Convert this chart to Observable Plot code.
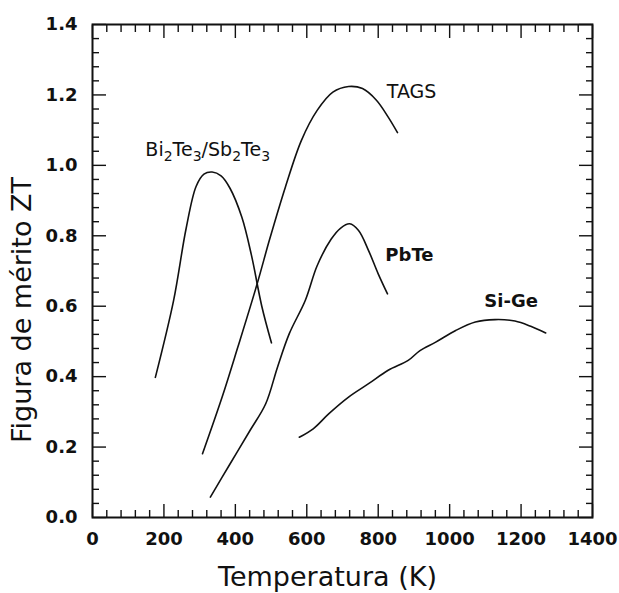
<!DOCTYPE html>
<html><head><meta charset="utf-8">
<script src="https://cdn.jsdelivr.net/npm/d3@7"></script>
<script src="https://cdn.jsdelivr.net/npm/@observablehq/plot@0.6"></script>
<style>html,body{margin:0;padding:0;background:#fff}</style>
</head><body><div id="chart"></div>
<script>
// Bi2Te3/Sb2Te3
const biT  = [176, 227, 262, 290, 312, 335, 360, 385, 418, 445, 474, 501];
const biZT = [0.398, 0.616, 0.820, 0.940, 0.975, 0.981, 0.970, 0.935, 0.853, 0.745, 0.600, 0.496];
// TAGS
const tagsT  = [308, 363, 407, 460, 496, 540, 585, 629, 673, 717, 756, 795, 828, 854];
const tagsZT = [0.181, 0.342, 0.484, 0.660, 0.790, 0.938, 1.071, 1.156, 1.208, 1.224, 1.218, 1.185, 1.137, 1.093];
// PbTe
const pbT  = [330, 385, 441, 485, 518, 551, 596, 629, 668, 695, 720, 745, 773, 800, 826];
const pbZT = [0.058, 0.152, 0.247, 0.323, 0.427, 0.522, 0.617, 0.715, 0.790, 0.822, 0.834, 0.815, 0.758, 0.692, 0.635];
// Si-Ge
const sigeT  = [579, 618, 662, 717, 773, 828, 884, 917, 961, 1017, 1072, 1127, 1183, 1227, 1269];
const sigeZT = [0.228, 0.252, 0.295, 0.342, 0.380, 0.418, 0.446, 0.474, 0.498, 0.531, 0.555, 0.562, 0.558, 0.543, 0.524];

const seriesNames = ["Bi2Te3/Sb2Te3", "TAGS", "PbTe", "Si-Ge"];
const xTickLabels = ["0", "200", "400", "600", "800", "1000", "1200", "1400"];
const yTickLabels = ["0.0", "0.2", "0.4", "0.6", "0.8", "1.0", "1.2", "1.4"];

// curve labels (anchored at data coordinates); digits in the first one are subscripts
const labelText = ["Bi2Te3/Sb2Te3", "TAGS", "PbTe", "Si-Ge"];
const labelT    = [148, 824, 820, 1097];
const labelZT   = [1.026, 1.191, 0.727, 0.598];

const xTitle = "Temperatura (K)";
const yTitle = "Figura de mérito ZT";

const allT = [biT, tagsT, pbT, sigeT];
const allZT = [biZT, tagsZT, pbZT, sigeZT];
const rows = seriesNames.flatMap((name, s) => allT[s].map((t, i) => ({series: name, T: t, ZT: allZT[s][i]})));
const labels = labelText.map((text, i) => ({text, T: labelT[i], ZT: labelZT[i]}));

const xMajor = xTickLabels.map(Number);
const xMinor = d3.range(0, 36).filter(i => i % 5 !== 0).map(i => i * 40);
const yMajor = yTickLabels.map(Number);
const yMinor = d3.range(0, 36).filter(i => i % 5 !== 0).map(i => +(i * 0.04).toFixed(2));

const blank = () => "";
const tickStyle = {label: null, tickFormat: blank, stroke: "#111", strokeWidth: 1.4};

const chart = Plot.plot({
  width: 619,
  height: 593,
  marginLeft: 92,
  marginRight: 27,
  marginTop: 24,
  marginBottom: 76,
  x: {domain: [0, 1400]},
  y: {domain: [0, 1.4]},
  style: {fontFamily: "DejaVu Sans", fontSize: "18px", fontWeight: "bold", color: "#111", background: "#fff"},
  marks: [
    Plot.axisX(xMinor, {...tickStyle, anchor: "bottom", tickSize: -7}),
    Plot.axisX(xMajor, {...tickStyle, anchor: "bottom", tickSize: -13}),
    Plot.axisX(xMinor, {...tickStyle, anchor: "top", tickSize: -7}),
    Plot.axisX(xMajor, {...tickStyle, anchor: "top", tickSize: -13}),
    Plot.axisY(yMinor, {...tickStyle, anchor: "left", tickSize: -7}),
    Plot.axisY(yMajor, {...tickStyle, anchor: "left", tickSize: -14}),
    Plot.axisY(yMinor, {...tickStyle, anchor: "right", tickSize: -7}),
    Plot.axisY(yMajor, {...tickStyle, anchor: "right", tickSize: -14}),
    Plot.axisX(xMajor, {anchor: "bottom", tickSize: 0, tickPadding: 15, label: null, fontSize: 18, fontWeight: "bold", tickFormat: d => xTickLabels[xMajor.indexOf(d)]}),
    Plot.axisY(yMajor, {anchor: "left", tickSize: 0, tickPadding: 15, label: null, fontSize: 18, fontWeight: "bold", tickFormat: d => yTickLabels[yMajor.indexOf(d)]}),
    Plot.frame({stroke: "#111", strokeWidth: 2}),
    Plot.line(rows, {x: "T", y: "ZT", z: "series", curve: "catmull-rom", stroke: "#111", strokeWidth: 1.6}),
    Plot.text(labels.slice(0, 2), {x: "T", y: "ZT", text: "text", textAnchor: "start", lineAnchor: "bottom", fontSize: 19, fontWeight: "normal", fill: "#111", className: "lbl-normal"}),
    Plot.text(labels.slice(2), {x: "T", y: "ZT", text: "text", textAnchor: "start", lineAnchor: "bottom", fontSize: 18, fontWeight: "bold", fill: "#111"}),
    Plot.text([xTitle], {frameAnchor: "bottom", text: d => d, dx: -15, dy: 68, textAnchor: "middle", lineAnchor: "bottom", fontSize: 27, fontWeight: "normal", fill: "#111"}),
    Plot.text([yTitle], {frameAnchor: "left", text: d => d, rotate: -90, dx: -62, dy: 39, textAnchor: "middle", lineAnchor: "bottom", fontSize: 27, fontWeight: "normal", fill: "#111"})
  ]
});

// turn the digits of the chemical formula into subscript tspans
d3.select(chart).selectAll("text").filter(function () { return this.textContent === labelText[0]; }).each(function () {
  const el = d3.select(this);
  const str = this.textContent;
  el.text(null);
  let prevSub = false;
  for (const ch of str) {
    const isSub = /[0-9]/.test(ch);
    const t = el.append("tspan").text(ch);
    if (isSub) { t.attr("font-size", 14); if (!prevSub) t.attr("dy", 5); }
    else if (prevSub) t.attr("dy", -5);
    prevSub = isSub;
  }
});

document.getElementById("chart").appendChild(chart);
</script>
</body></html>
